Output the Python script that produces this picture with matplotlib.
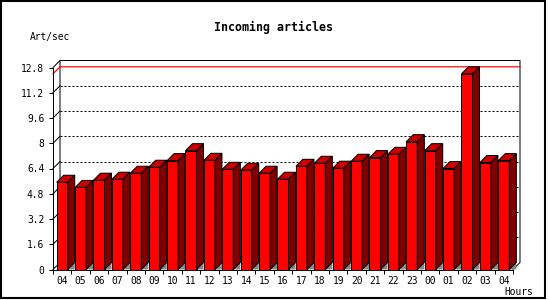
import matplotlib
matplotlib.use('Agg')
import matplotlib.pyplot as plt
import numpy as np
from matplotlib.patches import Polygon, Rectangle

hours = ['04', '05', '06', '07', '08', '09', '10', '11', '12', '13', '14', '15', '16',
         '17', '18', '19', '20', '21', '22', '23', '00', '01', '02', '03', '04']
rate = [5.53, 5.20, 5.66, 5.72, 6.10, 6.48, 6.90, 7.53, 6.92, 6.35, 6.29, 6.10, 5.72,
        6.54, 6.73, 6.42, 6.86, 7.09, 7.30, 8.10, 7.53, 6.40, 12.40, 6.78, 6.90]
yticks = [0, 1.6, 3.2, 4.8, 6.4, 8, 9.6, 11.2, 12.8]
ytick_labels = ['0', '1.6', '3.2', '4.8', '6.4', '8', '9.6', '11.2', '12.8']

W, H, DPI = 550, 300, 100
LW = 0.72  # one pixel
FONT = 'DejaVu Sans Mono'

fig = plt.figure(figsize=(W / DPI, H / DPI), dpi=DPI)
# front plane of the pseudo-3D box, in pixels
L, R, T, B = 53, 513, 67.5, 269.5
ax = fig.add_axes([L / W, 1 - B / H, (R - L) / W, (B - T) / H])
n = len(rate)
ymax = yticks[-1]
ax.set_xlim(0, n)
ax.set_ylim(0, ymax)
depth = 7  # px
dx = depth * n / (R - L)
dy = depth * ymax / (B - T)

for s in ['top', 'right']:
    ax.spines[s].set_visible(False)
for s in ['left', 'bottom']:
    ax.spines[s].set_linewidth(LW)
    ax.spines[s].set_zorder(6)

# back plane frame and grid
ax.plot([dx, dx, n + dx, n + dx, n], [dy, ymax + dy, ymax + dy, dy, 0],
        color='black', lw=LW, clip_on=False, zorder=1)
for v in yticks[1:-1]:
    ax.plot([dx, n + dx], [v + dy, v + dy], color='black', lw=LW,
            ls=(0, (2, 2)), clip_on=False, zorder=1)
for v in yticks:
    ax.plot([0, dx], [v, v + dy], color='black', lw=LW, clip_on=False, zorder=2)

# max line
top = max(rate)
ax.plot([0, dx, n + dx], [top, top + dy, top + dy], color='red', lw=LW * 1.2,
        clip_on=False, zorder=2)

for i, v in enumerate(rate):
    x0 = i + 0.2
    x1 = x0 + 0.6
    shadow = [(x1, 0), (x1 + dx, dy), (x1 + dx, 0)]
    front = [(x0, 0), (x1, 0), (x1, v), (x0, v)]
    side = [(x1, 0), (x1 + dx, dy), (x1 + dx, v + dy), (x1, v)]
    cap = [(x0, v), (x1, v), (x1 + dx, v + dy), (x0 + dx, v + dy)]
    ax.add_patch(Polygon(shadow, closed=True, fc='#888888', ec='none', clip_on=False, zorder=3))
    for pts, c in [(front, '#ff0000'), (side, '#800000'), (cap, '#c80000')]:
        ax.add_patch(Polygon(pts, closed=True, fc=c, ec='black', lw=LW,
                             clip_on=False, zorder=4, joinstyle='miter'))

ax.set_yticks(yticks, ytick_labels)
ax.set_xticks(np.arange(n) + 0.5, hours)
ax.set_xticks(np.arange(n + 1), minor=True)
ax.tick_params(axis='y', length=4 * 0.72, width=LW, pad=3.5, labelsize=6.9)
ax.tick_params(axis='x', which='major', length=0, pad=5, labelsize=6.9)
ax.tick_params(axis='x', which='minor', length=3.5 * 0.72, width=LW)
for lab in ax.get_xticklabels() + ax.get_yticklabels():
    lab.set_family(FONT)

fig.text(274 / W, 1 - 27 / H, 'Incoming articles', ha='center', va='center',
         family=FONT, weight='bold', fontsize=8.4)
fig.text(30 / W, 1 - 37 / H, 'Art/sec', ha='left', va='center', family=FONT, fontsize=6.9)
fig.text(504 / W, 1 - 292 / H, 'Hours', ha='left', va='center', family=FONT, fontsize=6.9)

fig.add_artist(Rectangle((0.75 / W, 2 / H), 544.5 / W, 297 / H, transform=fig.transFigure,
                         fill=False, ec='black', lw=1.5))

fig.savefig('out.png', dpi=DPI)
